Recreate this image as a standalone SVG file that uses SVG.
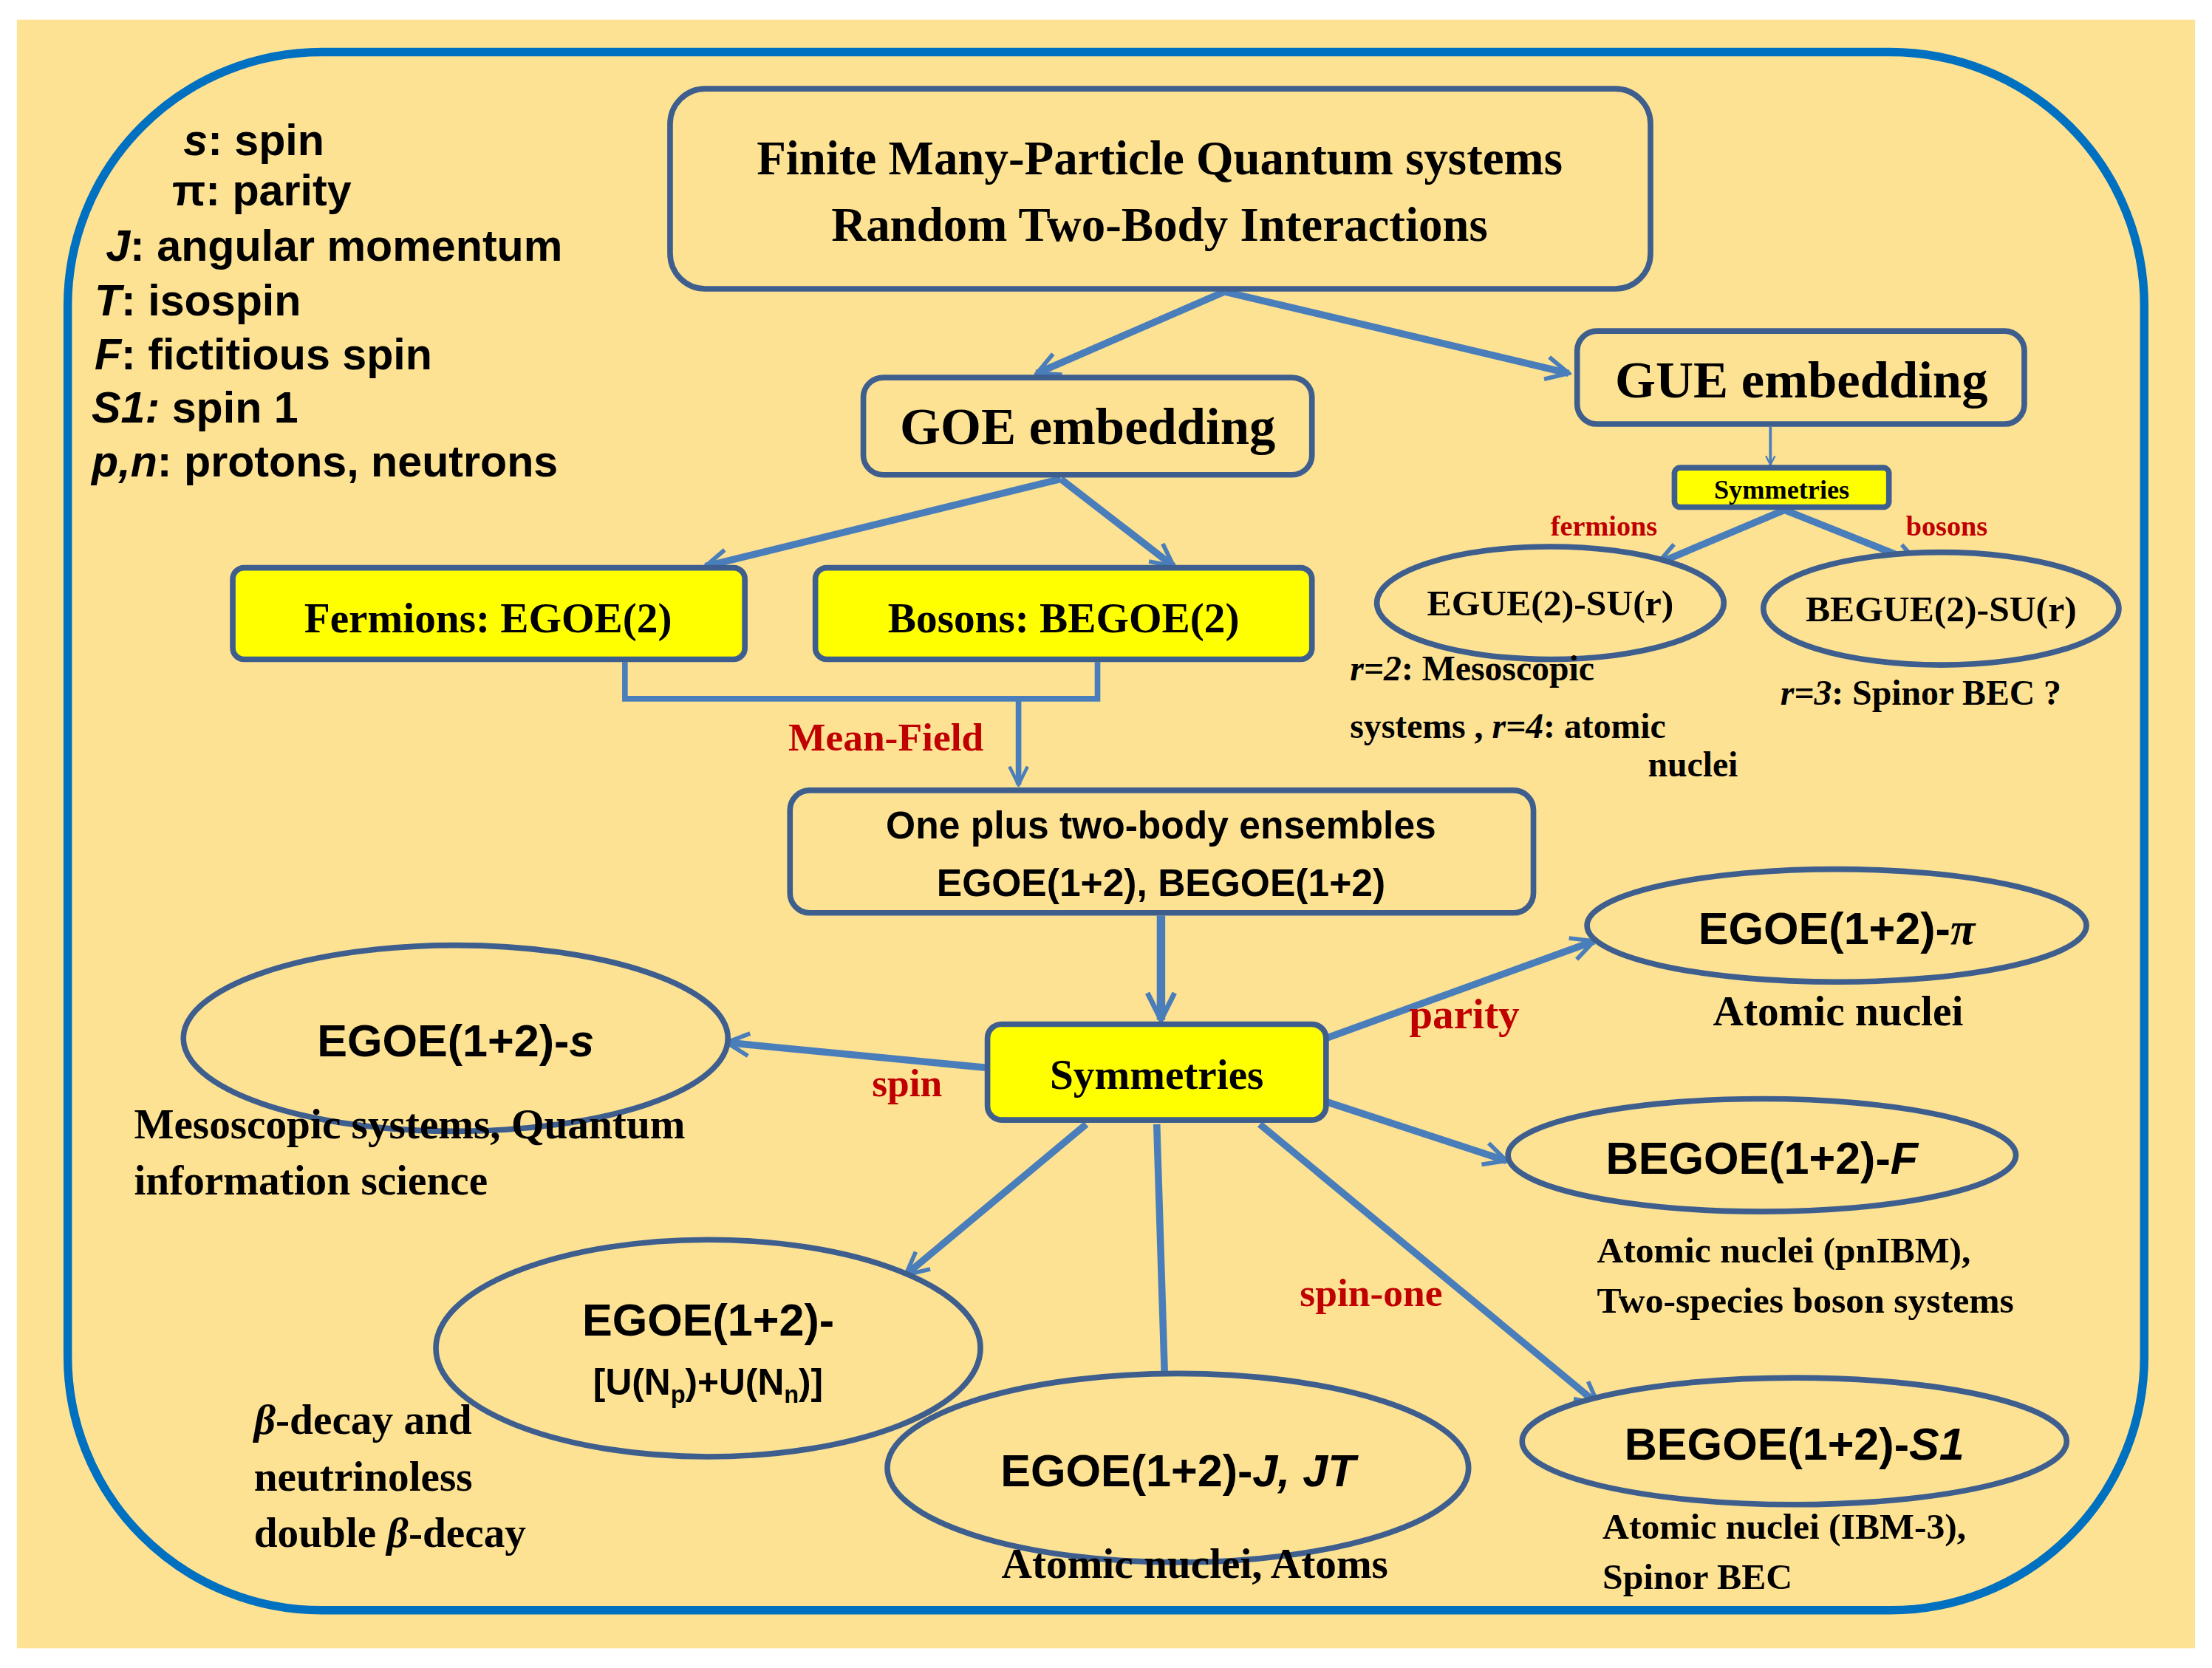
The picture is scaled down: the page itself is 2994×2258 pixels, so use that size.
<svg xmlns="http://www.w3.org/2000/svg" width="2994" height="2258" viewBox="0 0 2994 2258">
<style>
.nd{fill:#FDE293;stroke:#3E5E8E;stroke-width:4}
.yl{fill:#FFFF00;stroke:#3E5E8E;stroke-width:4}
.ar{fill:none;stroke:#4A7EBB;stroke-width:5;marker-end:url(#ah)}
.sf{font-family:"Liberation Serif",serif;font-weight:bold;fill:#000}
.ss{font-family:"Liberation Sans",Arial,sans-serif;font-weight:bold;fill:#000}
.rd{font-family:"Liberation Serif",serif;font-weight:bold;fill:#C00000}
.c{text-anchor:middle}
</style>
<defs>
<marker id="ah" viewBox="0 0 10 10" refX="9" refY="5" markerWidth="4" markerHeight="4" orient="auto" markerUnits="strokeWidth">
<polyline points="1,1 9,5 1,9" fill="none" stroke="#4A7EBB" stroke-width="1.5"/>
</marker>
</defs>
<rect width="2994" height="2258" fill="#fff"/>
<g transform="scale(1.9094,1.9071)">
<rect x="12" y="14" width="1544" height="1156" fill="#FDE293"/>
<rect x="48" y="37" width="1472" height="1106" rx="180" fill="none" stroke="#0070C0" stroke-width="6"/>
<g id="legend" class="ss" font-size="31">
<text x="130" y="110"><tspan font-style="italic">s</tspan>: spin</text>
<text x="122" y="146">π: parity</text>
<text x="75" y="185"><tspan font-style="italic">J</tspan>: angular momentum</text>
<text x="67" y="224"><tspan font-style="italic">T</tspan>: isospin</text>
<text x="67" y="262"><tspan font-style="italic">F</tspan>: fictitious spin</text>
<text x="65" y="300"><tspan font-style="italic">S1:</tspan> spin 1</text>
<text x="65" y="338"><tspan font-style="italic">p,n</tspan>: protons, neutrons</text>
</g>
<g id="connectors">
<line class="ar" x1="868" y1="207" x2="735" y2="265"/>
<line class="ar" x1="868" y1="207" x2="1112" y2="265"/>
<line class="ar" x1="1255" y1="303" x2="1255" y2="330" style="stroke-width:2"/>
<line class="ar" x1="1265" y1="362" x2="1175" y2="400"/>
<line class="ar" x1="1265" y1="362" x2="1360" y2="400"/>
<line class="ar" x1="752" y1="340" x2="500" y2="402"/>
<line class="ar" x1="752" y1="340" x2="832" y2="402"/>
<polyline points="443,470 443,496 778,496 778,470" fill="none" stroke="#4A7EBB" stroke-width="4"/>
<line class="ar" x1="722" y1="496" x2="722" y2="557" style="stroke-width:4"/>
<line class="ar" x1="823" y1="650" x2="823" y2="724" style="stroke-width:6"/>
<line class="ar" x1="940" y1="737" x2="1130" y2="668"/>
<line class="ar" x1="700" y1="758" x2="515" y2="740"/>
<line class="ar" x1="940" y1="782" x2="1068" y2="824"/>
<line class="ar" x1="770" y1="798" x2="642" y2="905"/>
<line class="ar" x1="820" y1="798" x2="826" y2="990"/>
<line class="ar" x1="893" y1="798" x2="1133" y2="997"/>
<text class="rd c" x="1137" y="380" font-size="20">fermions</text>
<text class="rd c" x="1380" y="380" font-size="20">bosons</text>
<text class="rd c" x="628" y="533" font-size="28">Mean-Field</text>
<text class="rd c" x="1038" y="730" font-size="30">parity</text>
<text class="rd c" x="643" y="778" font-size="28">spin</text>
<text class="rd c" x="972" y="927" font-size="28">spin-one</text>
</g>
<g id="title"><rect class="nd" x="475" y="63" width="695" height="142" rx="25"/>
<text class="sf c" x="822" y="124" font-size="34">Finite Many-Particle Quantum systems</text>
<text class="sf c" x="822" y="171" font-size="34">Random Two-Body Interactions</text></g>
<g id="goe"><rect class="nd" x="612" y="268" width="318" height="69" rx="14"/>
<text class="sf c" x="771" y="315" font-size="37">GOE embedding</text></g>
<g id="gue"><rect class="nd" x="1118" y="235" width="317" height="66" rx="14"/>
<text class="sf c" x="1277" y="282" font-size="37">GUE embedding</text></g>
<g id="sym1"><rect class="yl" x="1187" y="332" width="152" height="28" rx="4"/>
<text class="sf c" x="1263" y="354" font-size="19">Symmetries</text></g>
<g id="egue"><ellipse class="nd" cx="1099" cy="428" rx="123" ry="40"/>
<text class="sf c" x="1099" y="437" font-size="26">EGUE(2)-SU(r)</text>
<text class="sf" x="957" y="483" font-size="25"><tspan font-style="italic">r=2</tspan>: Mesoscopic</text>
<text class="sf" x="957" y="524" font-size="25">systems , <tspan font-style="italic">r=4</tspan>: atomic</text>
<text class="sf" x="1232" y="551" font-size="25" text-anchor="end">nuclei</text></g>
<g id="begue"><ellipse class="nd" cx="1376" cy="432" rx="126" ry="40"/>
<text class="sf c" x="1376" y="441" font-size="26">BEGUE(2)-SU(r)</text>
<text class="sf" x="1262" y="500" font-size="25"><tspan font-style="italic">r=3</tspan>: Spinor BEC ?</text></g>
<g id="ferm"><rect class="yl" x="165" y="403" width="363" height="65" rx="8"/>
<text class="sf c" x="346" y="449" font-size="30">Fermions: EGOE(2)</text></g>
<g id="bos"><rect class="yl" x="578" y="403" width="352" height="65" rx="8"/>
<text class="sf c" x="754" y="449" font-size="30">Bosons: BEGOE(2)</text></g>
<g id="oneplus"><rect class="nd" x="560" y="561" width="527" height="87" rx="14"/>
<text class="ss c" x="823" y="595" font-size="27">One plus two-body ensembles</text>
<text class="ss c" x="823" y="636" font-size="27">EGOE(1+2), BEGOE(1+2)</text></g>
<g id="sym2"><rect class="yl" x="700" y="727" width="240" height="68" rx="10"/>
<text class="sf c" x="820" y="773" font-size="30">Symmetries</text></g>
<g id="pi"><ellipse class="nd" cx="1302" cy="657" rx="177" ry="40"/>
<text class="ss c" x="1302" y="670" font-size="32">EGOE(1+2)-<tspan font-family="Liberation Serif" font-style="italic">π</tspan></text>
<text class="sf c" x="1303" y="728" font-size="30">Atomic nuclei</text></g>
<g id="s"><ellipse class="nd" cx="323" cy="737" rx="193" ry="66"/>
<text class="ss c" x="323" y="750" font-size="32">EGOE(1+2)-<tspan font-style="italic">s</tspan></text>
<text class="sf" x="95" y="808" font-size="30">Mesoscopic systems,  Quantum</text>
<text class="sf" x="95" y="848" font-size="30">information science</text></g>
<g id="f"><ellipse class="nd" cx="1249" cy="820" rx="180" ry="40"/>
<text class="ss c" x="1249" y="833" font-size="32">BEGOE(1+2)-<tspan font-style="italic">F</tspan></text>
<text class="sf" x="1132" y="896" font-size="26">Atomic nuclei (pnIBM),</text>
<text class="sf" x="1132" y="932" font-size="26">Two-species boson systems</text></g>
<g id="u"><ellipse class="nd" cx="502" cy="957" rx="193" ry="77"/>
<text class="ss c" x="502" y="948" font-size="32">EGOE(1+2)-</text>
<text class="ss c" x="502" y="990" font-size="26">[U(N<tspan font-size="17" dy="6">p</tspan><tspan dy="-6">)+U(N</tspan><tspan font-size="17" dy="6">n</tspan><tspan dy="-6">)]</tspan></text>
<text class="sf" x="180" y="1018" font-size="30"><tspan font-style="italic">β</tspan>-decay and</text>
<text class="sf" x="180" y="1058" font-size="30">neutrinoless</text>
<text class="sf" x="180" y="1098" font-size="30">double <tspan font-style="italic">β</tspan>-decay</text></g>
<g id="jt"><ellipse class="nd" cx="835" cy="1042" rx="206" ry="67"/>
<text class="ss c" x="835" y="1055" font-size="32">EGOE(1+2)-<tspan font-style="italic">J, JT</tspan></text>
<text class="sf c" x="847" y="1120" font-size="30">Atomic nuclei, Atoms</text></g>
<g id="s1"><ellipse class="nd" cx="1272" cy="1023" rx="193" ry="45"/>
<text class="ss c" x="1272" y="1036" font-size="32">BEGOE(1+2)-<tspan font-style="italic">S1</tspan></text>
<text class="sf" x="1136" y="1092" font-size="26">Atomic nuclei (IBM-3),</text>
<text class="sf" x="1136" y="1128" font-size="26">Spinor BEC</text></g>
</g>
</svg>
